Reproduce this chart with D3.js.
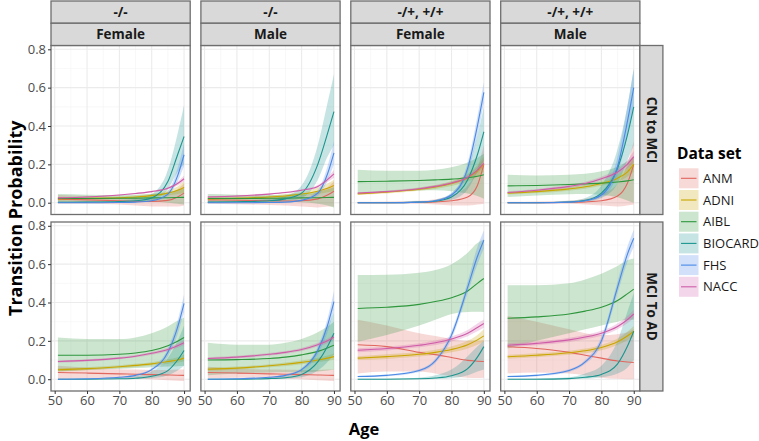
<!DOCTYPE html>
<html><head><meta charset="utf-8">
<script src="https://cdn.jsdelivr.net/npm/d3@7"></script>
<style>body{margin:0;background:#fff}svg{display:block}</style>
</head><body><svg id="c" width="759" height="441"></svg>
<script>
const datasets = ["ANM","ADNI","AIBL","BIOCARD","FHS","NACC"];
const colors = ["#E0665E","#C9A500","#2E963C","#1C948E","#4A88E6","#CF5CA8"];
const genotypes = ["-/-","-/-","-/+, +/+","-/+, +/+"];
const sexes = ["Female","Male","Female","Male"];
const transitions = ["CN to MCI","MCI To AD"];
const ages = [51,60,70,75,80,85,88,90];
const xTicks = [50,60,70,80,90];
const yTicks = [0,0.2,0.4,0.6,0.8];

// CN to MCI, -/-, Female
const cnNegF_mean = [[0.018,0.015,0.01,0.007,0.006,0.012,0.03,0.05],[0.02,0.022,0.026,0.03,0.037,0.05,0.065,0.08],[0.022,0.022,0.023,0.024,0.025,0.026,0.027,0.028],[0.002,0.003,0.006,0.01,0.025,0.11,0.25,0.345],[0,0,0.001,0.003,0.01,0.045,0.14,0.25],[0.025,0.03,0.04,0.048,0.058,0.075,0.1,0.125]];
const cnNegF_lo = [[-0.005,-0.005,-0.01,-0.015,-0.02,-0.02,-0.02,-0.015],[0.012,0.015,0.02,0.024,0.03,0.038,0.045,0.05],[0,0.003,0.005,0.006,0.005,0,-0.005,-0.01],[0,0,0.002,0.004,0.012,0.07,0.16,0.2],[0,0,0,0.002,0.007,0.035,0.11,0.19],[0.022,0.027,0.037,0.045,0.054,0.069,0.09,0.11]];
const cnNegF_hi = [[0.04,0.035,0.03,0.025,0.025,0.04,0.07,0.1],[0.028,0.03,0.033,0.037,0.045,0.065,0.085,0.11],[0.045,0.042,0.04,0.042,0.045,0.055,0.065,0.075],[0.006,0.008,0.012,0.02,0.045,0.17,0.36,0.51],[0.001,0.001,0.002,0.005,0.014,0.06,0.18,0.31],[0.028,0.033,0.043,0.051,0.062,0.081,0.11,0.14]];
// CN to MCI, -/-, Male
const cnNegM_mean = [[0.015,0.013,0.01,0.009,0.01,0.02,0.04,0.06],[0.02,0.023,0.03,0.035,0.045,0.06,0.075,0.09],[0.022,0.022,0.023,0.024,0.025,0.026,0.027,0.028],[0.003,0.005,0.01,0.02,0.05,0.2,0.36,0.475],[0,0,0.001,0.003,0.012,0.05,0.15,0.26],[0.03,0.035,0.045,0.053,0.065,0.085,0.12,0.15]];
const cnNegM_lo = [[-0.005,-0.008,-0.012,-0.015,-0.02,-0.025,-0.02,-0.02],[0.013,0.016,0.022,0.027,0.035,0.045,0.055,0.06],[0,0.003,0.005,0.005,0.003,-0.005,-0.015,-0.025],[0,0.001,0.004,0.01,0.025,0.12,0.24,0.3],[0,0,0,0.002,0.008,0.038,0.115,0.2],[0.026,0.031,0.041,0.049,0.06,0.078,0.108,0.13]];
const cnNegM_hi = [[0.035,0.034,0.033,0.033,0.038,0.055,0.08,0.11],[0.027,0.03,0.038,0.044,0.056,0.078,0.1,0.12],[0.045,0.042,0.04,0.043,0.048,0.058,0.07,0.08],[0.008,0.01,0.02,0.035,0.09,0.3,0.52,0.67],[0.001,0.001,0.002,0.005,0.017,0.065,0.19,0.32],[0.034,0.039,0.049,0.057,0.07,0.092,0.132,0.17]];
// CN to MCI, -/+ +/+, Female
const cnPosF_mean = [[0,0,0.002,0.004,0.01,0.03,0.09,0.2],[0.046,0.055,0.07,0.082,0.1,0.13,0.165,0.2],[0.11,0.112,0.116,0.119,0.123,0.13,0.138,0.146],[0,0,0.003,0.008,0.03,0.12,0.25,0.37],[0,0,0.003,0.01,0.04,0.18,0.4,0.575],[0.05,0.058,0.073,0.085,0.103,0.133,0.17,0.205]];
const cnPosF_lo = [[-0.005,-0.005,-0.006,-0.01,-0.015,-0.015,-0.01,-0.005],[0.04,0.048,0.062,0.072,0.087,0.11,0.135,0.16],[0.05,0.058,0.064,0.065,0.06,0.048,0.035,0.02],[0,0,0.001,0.004,0.015,0.07,0.16,0.22],[0,0,0.002,0.007,0.032,0.155,0.35,0.52],[0.045,0.053,0.067,0.078,0.095,0.122,0.155,0.185]];
const cnPosF_hi = [[0.005,0.006,0.01,0.018,0.04,0.09,0.18,0.3],[0.052,0.062,0.078,0.092,0.113,0.15,0.195,0.24],[0.172,0.166,0.166,0.172,0.185,0.21,0.235,0.255],[0.002,0.003,0.007,0.016,0.05,0.18,0.35,0.5],[0.001,0.001,0.005,0.014,0.05,0.21,0.45,0.63],[0.055,0.063,0.079,0.092,0.111,0.144,0.185,0.225]];
// CN to MCI, -/+ +/+, Male
const cnPosM_mean = [[0,0,0.002,0.004,0.01,0.035,0.1,0.2],[0.05,0.058,0.072,0.083,0.1,0.128,0.16,0.2],[0.088,0.09,0.095,0.098,0.102,0.108,0.114,0.12],[0,0,0.004,0.012,0.05,0.18,0.35,0.5],[0,0,0.003,0.01,0.04,0.19,0.42,0.6],[0.053,0.065,0.085,0.1,0.125,0.16,0.2,0.24]];
const cnPosM_lo = [[-0.005,-0.005,-0.006,-0.01,-0.015,-0.02,-0.015,-0.01],[0.043,0.05,0.063,0.073,0.088,0.11,0.135,0.16],[0.03,0.038,0.044,0.045,0.04,0.028,0.012,0],[0,0,0.001,0.005,0.025,0.1,0.22,0.3],[0,0,0.002,0.007,0.03,0.15,0.35,0.5],[0.047,0.058,0.077,0.091,0.114,0.146,0.18,0.21]];
const cnPosM_hi = [[0.005,0.006,0.01,0.02,0.045,0.1,0.2,0.32],[0.057,0.066,0.081,0.093,0.112,0.146,0.185,0.24],[0.146,0.142,0.146,0.151,0.164,0.188,0.216,0.24],[0.002,0.003,0.01,0.025,0.09,0.28,0.5,0.7],[0.001,0.001,0.005,0.014,0.055,0.24,0.5,0.7],[0.059,0.072,0.093,0.109,0.136,0.174,0.22,0.27]];
// MCI to AD, -/-, Female
const mciNegF_mean = [[0.035,0.032,0.028,0.026,0.024,0.022,0.021,0.02],[0.049,0.055,0.065,0.072,0.08,0.092,0.1,0.11],[0.125,0.125,0.13,0.137,0.15,0.175,0.198,0.217],[0,0,0.002,0.005,0.015,0.045,0.1,0.15],[0,0.002,0.01,0.02,0.05,0.14,0.27,0.395],[0.092,0.098,0.11,0.12,0.135,0.155,0.175,0.19]];
const mciNegF_lo = [[0,0.005,0.005,0.003,0,-0.005,-0.008,-0.01],[0.041,0.047,0.057,0.064,0.071,0.08,0.086,0.092],[0.04,0.048,0.054,0.058,0.062,0.066,0.068,0.07],[0,0,0,0.001,0.005,0.02,0.045,0.07],[0,0.001,0.007,0.016,0.043,0.12,0.235,0.35],[0.086,0.092,0.104,0.114,0.128,0.146,0.164,0.177]];
const mciNegF_hi = [[0.07,0.06,0.052,0.05,0.048,0.048,0.05,0.05],[0.057,0.063,0.073,0.08,0.089,0.104,0.115,0.128],[0.217,0.21,0.21,0.218,0.24,0.275,0.305,0.32],[0.001,0.002,0.006,0.015,0.04,0.11,0.2,0.28],[0.001,0.003,0.013,0.025,0.058,0.16,0.305,0.44],[0.098,0.104,0.116,0.126,0.142,0.164,0.186,0.203]];
// MCI to AD, -/-, Male
const mciNegM_mean = [[0.035,0.032,0.028,0.026,0.024,0.022,0.021,0.02],[0.052,0.058,0.07,0.078,0.088,0.1,0.11,0.118],[0.1,0.102,0.108,0.115,0.127,0.145,0.163,0.177],[0,0,0.003,0.008,0.025,0.09,0.17,0.24],[0,0.002,0.01,0.02,0.05,0.15,0.28,0.405],[0.108,0.115,0.13,0.14,0.155,0.18,0.2,0.22]];
const mciNegM_lo = [[0.005,0.008,0.006,0.003,0,-0.005,-0.008,-0.01],[0.044,0.05,0.062,0.069,0.078,0.088,0.096,0.102],[0.02,0.03,0.035,0.036,0.036,0.04,0.045,0.05],[0,0,0.001,0.003,0.01,0.045,0.09,0.13],[0,0.001,0.007,0.016,0.043,0.13,0.245,0.36],[0.101,0.108,0.123,0.133,0.147,0.17,0.188,0.205]];
const mciNegM_hi = [[0.065,0.056,0.05,0.049,0.048,0.048,0.05,0.052],[0.06,0.066,0.078,0.087,0.098,0.112,0.124,0.134],[0.19,0.18,0.18,0.19,0.21,0.245,0.275,0.3],[0.002,0.003,0.008,0.02,0.05,0.16,0.27,0.35],[0.001,0.003,0.013,0.025,0.058,0.17,0.315,0.46],[0.115,0.122,0.137,0.147,0.163,0.19,0.212,0.235]];
// MCI to AD, -/+ +/+, Female
const mciPosF_mean = [[0.18,0.17,0.14,0.128,0.113,0.098,0.094,0.092],[0.11,0.118,0.13,0.14,0.155,0.18,0.205,0.226],[0.369,0.375,0.39,0.405,0.425,0.46,0.5,0.525],[0,0,0.002,0.006,0.018,0.055,0.115,0.17],[0.014,0.02,0.045,0.096,0.23,0.48,0.64,0.725],[0.151,0.16,0.177,0.19,0.21,0.24,0.27,0.29]];
const mciPosF_lo = [[0.03,0.04,0.04,0.03,0.015,0.008,0.006,0.008],[0.1,0.106,0.118,0.127,0.14,0.16,0.18,0.195],[0.195,0.23,0.28,0.31,0.34,0.35,0.352,0.35],[0,0,0,0.001,0.005,0.02,0.04,0.05],[0.01,0.015,0.038,0.085,0.21,0.45,0.6,0.68],[0.141,0.15,0.166,0.178,0.197,0.224,0.25,0.268]];
const mciPosF_hi = [[0.31,0.28,0.24,0.225,0.21,0.2,0.2,0.205],[0.12,0.13,0.142,0.153,0.17,0.2,0.23,0.26],[0.544,0.545,0.555,0.57,0.6,0.66,0.71,0.73],[0.002,0.003,0.008,0.02,0.05,0.12,0.17,0.2],[0.018,0.025,0.052,0.107,0.25,0.51,0.69,0.775],[0.161,0.17,0.188,0.202,0.223,0.256,0.29,0.312]];
// MCI to AD, -/+ +/+, Male
const mciPosM_mean = [[0.169,0.16,0.14,0.125,0.11,0.095,0.09,0.087],[0.117,0.125,0.138,0.148,0.165,0.195,0.225,0.25],[0.318,0.325,0.34,0.355,0.375,0.41,0.445,0.47],[0,0,0.003,0.01,0.025,0.08,0.17,0.25],[0.014,0.02,0.045,0.09,0.2,0.48,0.65,0.735],[0.177,0.187,0.205,0.22,0.24,0.275,0.31,0.34]];
const mciPosM_lo = [[0.03,0.035,0.03,0.02,0.008,0.002,0,0],[0.107,0.115,0.127,0.136,0.151,0.178,0.203,0.223],[0.16,0.2,0.24,0.26,0.28,0.3,0.31,0.31],[0,0,0,0.002,0.01,0.03,0.06,0.1],[0.01,0.015,0.038,0.08,0.18,0.45,0.61,0.69],[0.167,0.177,0.194,0.208,0.227,0.26,0.292,0.318]];
const mciPosM_hi = [[0.33,0.3,0.26,0.24,0.23,0.235,0.245,0.26],[0.127,0.135,0.149,0.16,0.179,0.212,0.247,0.277],[0.49,0.49,0.5,0.52,0.55,0.59,0.62,0.63],[0.002,0.004,0.01,0.03,0.07,0.2,0.35,0.45],[0.018,0.025,0.052,0.1,0.22,0.51,0.69,0.78],[0.187,0.197,0.216,0.232,0.253,0.29,0.328,0.362]];

const panels = [
  {row:0,col:0,mean:cnNegF_mean,lo:cnNegF_lo,hi:cnNegF_hi},
  {row:0,col:1,mean:cnNegM_mean,lo:cnNegM_lo,hi:cnNegM_hi},
  {row:0,col:2,mean:cnPosF_mean,lo:cnPosF_lo,hi:cnPosF_hi},
  {row:0,col:3,mean:cnPosM_mean,lo:cnPosM_lo,hi:cnPosM_hi},
  {row:1,col:0,mean:mciNegF_mean,lo:mciNegF_lo,hi:mciNegF_hi},
  {row:1,col:1,mean:mciNegM_mean,lo:mciNegM_lo,hi:mciNegM_hi},
  {row:1,col:2,mean:mciPosF_mean,lo:mciPosF_lo,hi:mciPosF_hi},
  {row:1,col:3,mean:mciPosM_mean,lo:mciPosM_lo,hi:mciPosM_hi}
];

// layout
const FONT = "'Open Sans', 'Noto Sans', sans-serif";
const px0 = 51, pStep = 149.9, pW = 139.2;
const rowTop = [45.5, 222], pH = 169;
const stripH = 22.25;
const borderCol = "#6E6E6E";
const stripFill = "#D9D9D9";

const svg = d3.select("#c");
const x = d3.scaleLinear().domain([48.86, 91.9]).range([0, pW]);
const y = d3.scaleLinear().domain([-0.0615, 0.8198]).range([pH, 0]);
const minorX = [55,65,75,85];
const minorY = [0.1,0.3,0.5,0.7];

const defs = svg.append("defs");
panels.forEach((p,i)=>{
  defs.append("clipPath").attr("id","clip"+i).append("rect").attr("width",pW).attr("height",pH);
});

panels.forEach((p,i)=>{
  const g = svg.append("g").attr("transform",`translate(${px0+p.col*pStep},${rowTop[p.row]})`);
  g.append("rect").attr("width",pW).attr("height",pH).attr("fill","#fff");
  g.selectAll(".gmx").data(minorX).join("line").attr("x1",d=>x(d)).attr("x2",d=>x(d)).attr("y1",0).attr("y2",pH).attr("stroke","#F3F3F3").attr("stroke-width",0.6);
  g.selectAll(".gmy").data(minorY).join("line").attr("y1",d=>y(d)).attr("y2",d=>y(d)).attr("x1",0).attr("x2",pW).attr("stroke","#F3F3F3").attr("stroke-width",0.6);
  g.selectAll(".gx").data(xTicks).join("line").attr("x1",d=>x(d)).attr("x2",d=>x(d)).attr("y1",0).attr("y2",pH).attr("stroke","#EBEBEB").attr("stroke-width",1.1);
  g.selectAll(".gy").data(yTicks).join("line").attr("y1",d=>y(d)).attr("y2",d=>y(d)).attr("x1",0).attr("x2",pW).attr("stroke","#EBEBEB").attr("stroke-width",1.1);

  const plot = g.append("g").attr("clip-path",`url(#clip${i})`);
  const area = d3.area().x((d,j)=>x(ages[j])).y0(d=>y(d[0])).y1(d=>y(d[1])).curve(d3.curveMonotoneX);
  const line = d3.line().x((d,j)=>x(ages[j])).y(d=>y(d)).curve(d3.curveMonotoneX);
  datasets.forEach((ds,k)=>{
    const band = ages.map((a,j)=>[p.lo[k][j], p.hi[k][j]]);
    plot.append("path").attr("d",area(band)).attr("fill",colors[k]).attr("fill-opacity",0.25).attr("stroke","none");
  });
  datasets.forEach((ds,k)=>{
    plot.append("path").attr("d",line(p.mean[k])).attr("fill","none").attr("stroke",colors[k]).attr("stroke-width",1.1);
  });
  g.append("rect").attr("width",pW).attr("height",pH).attr("fill","none").attr("stroke",borderCol).attr("stroke-width",1.3);

  if(p.col===0){
    const ya = d3.axisLeft(y).tickValues(yTicks).tickFormat(d3.format(".1f")).tickSize(3).tickPadding(2);
    const ag = g.append("g").call(ya);
    ag.select(".domain").remove();
    ag.selectAll(".tick line").attr("stroke","#333").attr("stroke-width",1);
    ag.selectAll(".tick text").attr("fill","#4D4D4D").style("font-family",FONT).style("font-size","13px");
  }
  if(p.row===1){
    const xa = d3.axisBottom(x).tickValues(xTicks).tickFormat(d3.format("d")).tickSize(3).tickPadding(2);
    const ag = g.append("g").attr("transform",`translate(0,${pH})`).call(xa);
    ag.select(".domain").remove();
    ag.selectAll(".tick line").attr("stroke","#333").attr("stroke-width",1);
    ag.selectAll(".tick text").attr("fill","#4D4D4D").style("font-family",FONT).style("font-size","13px");
  }
});

// top strips
for(let c=0;c<4;c++){
  const sx = px0+c*pStep;
  [genotypes[c], sexes[c]].forEach((t,r)=>{
    const sy = 1 + r*stripH;
    svg.append("rect").attr("x",sx).attr("y",sy).attr("width",pW).attr("height",stripH)
      .attr("fill",stripFill).attr("stroke",borderCol).attr("stroke-width",1.3);
    svg.append("text").attr("x",sx+pW/2).attr("y",sy+stripH/2).attr("dy","0.36em")
      .attr("text-anchor","middle").style("font-family",FONT).style("font-weight","bold")
      .style("font-size","13.5px").attr("fill","#1A1A1A").text(t);
  });
}
// right strips
const rsx = px0+3*pStep+pW, rsw = 23;
transitions.forEach((t,r)=>{
  svg.append("rect").attr("x",rsx).attr("y",rowTop[r]).attr("width",rsw).attr("height",pH)
    .attr("fill",stripFill).attr("stroke",borderCol).attr("stroke-width",1.3);
  svg.append("text").attr("transform",`translate(${rsx+rsw/2},${rowTop[r]+pH/2}) rotate(90)`)
    .attr("dy","0.36em").attr("text-anchor","middle").style("font-family",FONT).style("font-weight","bold")
    .style("font-size","13.5px").attr("fill","#1A1A1A").text(t);
});

// axis titles
svg.append("text").attr("transform",`translate(16,${(rowTop[0]+rowTop[1]+pH)/2}) rotate(-90)`)
  .attr("text-anchor","middle").attr("dy","0.36em").style("font-family",FONT).style("font-weight","bold")
  .style("font-size","18px").attr("fill","#000").text("Transition Probability");
svg.append("text").attr("x",364).attr("y",429).attr("dy","0.36em").attr("text-anchor","middle")
  .style("font-family",FONT).style("font-weight","bold").style("font-size","16.5px").attr("fill","#000").text("Age");

// legend
const lg = svg.append("g");
lg.append("text").attr("x",677).attr("y",153).attr("dy","0.36em").style("font-family",FONT).style("font-weight","bold")
  .style("font-size","15.5px").attr("fill","#000").text("Data set");
datasets.forEach((ds,k)=>{
  const ky = 168.3 + k*21.7;
  lg.append("rect").attr("x",679).attr("y",ky).attr("width",19.5).attr("height",20)
    .attr("fill",colors[k]).attr("fill-opacity",0.25);
  lg.append("line").attr("x1",681).attr("x2",696.5).attr("y1",ky+10).attr("y2",ky+10)
    .attr("stroke",colors[k]).attr("stroke-width",1.1);
  lg.append("text").attr("x",703).attr("y",ky+10).attr("dy","0.36em").style("font-family",FONT)
    .style("font-size","13px").attr("fill","#1A1A1A").text(ds);
});
</script></body></html>
